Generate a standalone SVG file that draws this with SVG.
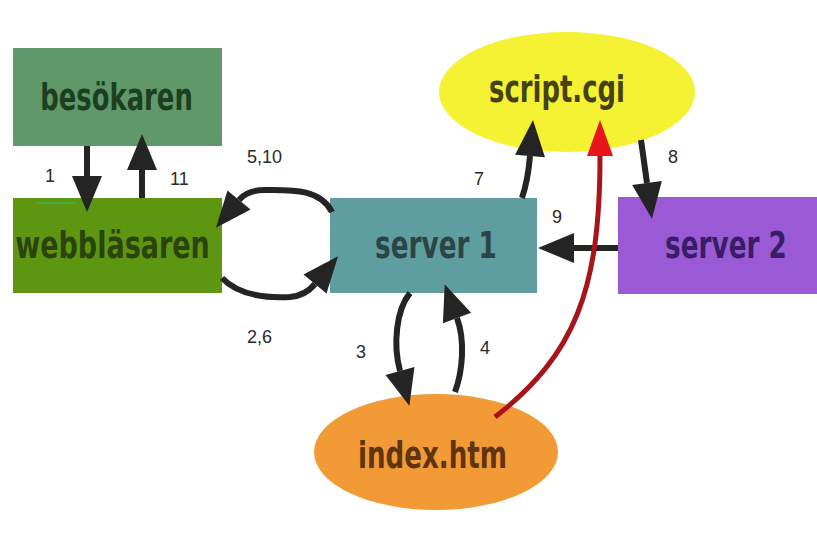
<svg xmlns="http://www.w3.org/2000/svg" width="817" height="535" viewBox="0 0 817 535">
  <style>
    .name { font-family: "DejaVu Sans", Verdana, sans-serif; font-weight: bold; font-size: 37px; text-anchor: middle; }
    .num { font-family: "Liberation Sans", Arial, sans-serif; font-size: 18px; fill: #2a2a2a; }
    .link { fill: none; stroke: #242424; stroke-width: 6; }
    .red { fill: none; stroke: #a8141a; stroke-width: 5; }
  </style>
  <defs>
    <marker id="head" viewBox="0 -16 36 32" markerWidth="36" markerHeight="32" refX="0" refY="0" markerUnits="userSpaceOnUse" orient="auto" overflow="visible">
      <path d="M0,-15 L36,0 L0,15 z" fill="#242424"/>
    </marker>
    <marker id="headRed" viewBox="0 -16 36 32" markerWidth="36" markerHeight="32" refX="0" refY="0" markerUnits="userSpaceOnUse" orient="auto" overflow="visible">
      <path d="M0,-13 L36,0 L0,13 z" fill="#e8161a"/>
    </marker>
  </defs>

  <rect width="817" height="535" fill="#ffffff"/>

  <!-- node labels use a narrowed bold face: scale(0.7,1) around the label anchor -->
  <g id="besokaren">
    <rect x="13" y="48" width="209" height="98" fill="#60986a"/>
    <text class="name" transform="translate(116.5,110) scale(0.7,1)" x="0" y="0" fill="#1c401f" textLength="218" lengthAdjust="spacingAndGlyphs">besökaren</text>
  </g>

  <g id="webblasaren">
    <rect x="13" y="198" width="209" height="95" fill="#5e9612"/>
    <line x1="37" y1="203" x2="75" y2="203" stroke="#3fae3f" stroke-width="2"/>
    <text class="name" transform="translate(112.5,258) scale(0.7,1)" x="0" y="0" fill="#2a440c" textLength="278" lengthAdjust="spacingAndGlyphs">webbläsaren</text>
  </g>

  <g id="server1">
    <rect x="330" y="198" width="207" height="95" fill="#5f9ea0"/>
    <text class="name" transform="translate(436,258) scale(0.7,1)" x="0" y="0" fill="#2b4444" textLength="174" lengthAdjust="spacingAndGlyphs">server 1</text>
  </g>

  <g id="server2">
    <rect x="618" y="197" width="199" height="97" fill="#9a5ad6"/>
    <text class="name" transform="translate(726,258) scale(0.7,1)" x="0" y="0" fill="#381d68" textLength="174" lengthAdjust="spacingAndGlyphs">server 2</text>
  </g>

  <g id="scriptcgi">
    <ellipse cx="567" cy="92" rx="128" ry="60" fill="#f4f232"/>
    <text class="name" transform="translate(557,102) scale(0.7,1)" x="0" y="0" fill="#444210" textLength="194" lengthAdjust="spacingAndGlyphs">script.cgi</text>
  </g>

  <g id="indexhtm">
    <ellipse cx="436" cy="452" rx="122" ry="58" fill="#f29a36"/>
    <text class="name" transform="translate(432.5,468) scale(0.7,1)" x="0" y="0" fill="#60340e" textLength="213" lengthAdjust="spacingAndGlyphs">index.htm</text>
  </g>

  <g id="connectors">
    <!-- 1: visitor to browser -->
    <path class="link" d="M87,146 L87,176" marker-end="url(#head)"/>
    <!-- 11: browser back to visitor -->
    <path class="link" d="M142,198 L142,170" marker-end="url(#head)"/>
    <!-- 5,10: server 1 answers the browser -->
    <path class="link" d="M332,212 C320,188 290,190 265,190 C252,190 244,194 239,200" marker-end="url(#head)"/>
    <!-- 2,6: browser requests from server 1 -->
    <path class="link" d="M222,278 C240,297 270,298 290,297 C302,296 310,290 315,284" marker-end="url(#head)"/>
    <!-- 3: server 1 reads index.htm -->
    <path class="link" d="M410,293 C396,310 393,345 400,371" marker-end="url(#head)"/>
    <!-- 4: index.htm back to server 1 -->
    <path class="link" d="M455,392 C463,370 465,340 457,318" marker-end="url(#head)"/>
    <!-- 7: server 1 runs script.cgi -->
    <path class="link" d="M522,198 Q528,180 530,156" marker-end="url(#head)"/>
    <!-- 8: script.cgi to server 2 -->
    <path class="link" d="M641,140 L647,183" marker-end="url(#head)"/>
    <!-- 9: server 2 back to server 1 -->
    <path class="link" d="M618,248 L574,248" marker-end="url(#head)"/>
    <!-- index.htm form points at script.cgi -->
    <path class="red" d="M495,417 C575,355 600,290 600,156" marker-end="url(#headRed)"/>

    <text class="num" x="45" y="182">1</text>
    <text class="num" x="170" y="185">11</text>
    <text class="num" x="247" y="163">5,10</text>
    <text class="num" x="247" y="343">2,6</text>
    <text class="num" x="356" y="358">3</text>
    <text class="num" x="480" y="354">4</text>
    <text class="num" x="474" y="185">7</text>
    <text class="num" x="668" y="163">8</text>
    <text class="num" x="552" y="223">9</text>
  </g>
</svg>
